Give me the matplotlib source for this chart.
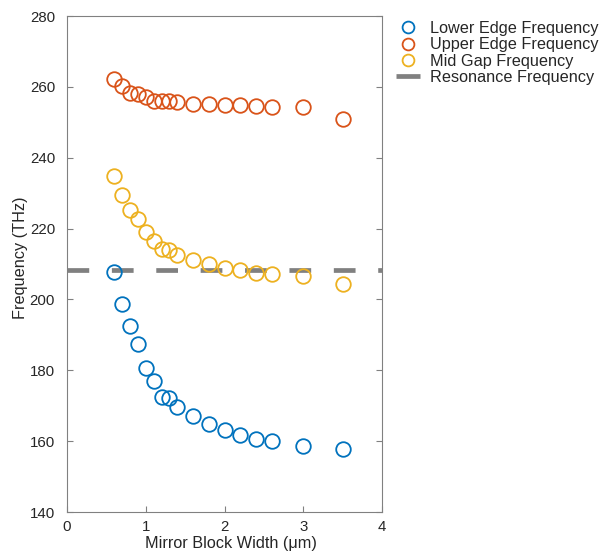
import matplotlib
matplotlib.use("Agg")
import matplotlib.pyplot as plt
from matplotlib.lines import Line2D

plt.rcParams['font.family'] = ['Liberation Sans', 'DejaVu Sans']

width_um = [0.6, 0.7, 0.8, 0.9, 1.0, 1.1, 1.2, 1.3, 1.4, 1.6, 1.8, 2.0, 2.2, 2.4, 2.6, 3.0, 3.5]
lower_edge = [207.7, 198.6, 192.4, 187.3, 180.6, 176.9, 172.6, 172.2, 169.6, 167.0, 164.8, 163.1, 161.8, 160.5, 159.9, 158.7, 157.7]
upper_edge = [262.1, 260.2, 258.2, 258.0, 257.2, 256.1, 255.9, 255.9, 255.6, 255.1, 255.1, 254.9, 254.8, 254.5, 254.4, 254.4, 250.8]
mid_gap = [234.9, 229.4, 225.2, 222.6, 218.9, 216.5, 214.3, 213.9, 212.6, 211.1, 210.0, 208.9, 208.3, 207.6, 207.3, 206.5, 204.4]
resonance = 208.2

xlim = (0, 4)
ylim = (140, 280)
xticks = [0, 1, 2, 3, 4]
yticks = [140, 160, 180, 200, 220, 240, 260, 280]

c_blue = '#0072BD'
c_orange = '#D95319'
c_yellow = '#EDB120'
c_gray = '#808080'
c_text = '#262626'

fig = plt.figure(figsize=(6.06, 5.58), dpi=100)
ax = fig.add_axes([67/606, 46/558, 315/606, 496/558])

mk = dict(marker='o', linestyle='none', markersize=10.5, markerfacecolor='none', markeredgewidth=1.3)
ax.plot(width_um, lower_edge, color=c_blue, markeredgecolor=c_blue, label='Lower Edge Frequency', **mk)
ax.plot(width_um, upper_edge, color=c_orange, markeredgecolor=c_orange, label='Upper Edge Frequency', **mk)
ax.plot(width_um, mid_gap, color=c_yellow, markeredgecolor=c_yellow, label='Mid Gap Frequency', **mk)
lw = 3.4
ax.plot(list(xlim), [resonance, resonance], color=c_gray, linewidth=lw,
        linestyle=(0, (4.6, 4.8)), solid_capstyle='butt', dash_capstyle='butt',
        label='Resonance Frequency', zorder=1)

ax.set_xlim(*xlim)
ax.set_ylim(*ylim)
ax.set_xticks(xticks)
ax.set_yticks(yticks)
ax.tick_params(direction='in', length=4, width=0.8, color=c_gray, labelsize=10.8,
               labelcolor=c_text, right=True, top=False)
ax.tick_params(axis='y', pad=8.6)
ax.tick_params(axis='x', pad=5.5)
for s in ax.spines.values():
    s.set_color(c_gray)
    s.set_linewidth(0.8)
ax.set_xlabel('Mirror Block Width (μm)', fontsize=11.7, color=c_text, labelpad=2, x=0.522)
ax.set_ylabel('Frequency (THz)', fontsize=11.7, color=c_text, labelpad=1, y=0.512)

handles = [
    Line2D([], [], marker='o', linestyle='none', markersize=8.5, markerfacecolor='none', markeredgewidth=1.3, markeredgecolor=c_blue),
    Line2D([], [], marker='o', linestyle='none', markersize=8.5, markerfacecolor='none', markeredgewidth=1.3, markeredgecolor=c_orange),
    Line2D([], [], marker='o', linestyle='none', markersize=8.5, markerfacecolor='none', markeredgewidth=1.3, markeredgecolor=c_yellow),
    Line2D([], [], color=c_gray, linewidth=3.4, solid_capstyle='butt'),
]
labels = ['Lower Edge Frequency', 'Upper Edge Frequency', 'Mid Gap Frequency', 'Resonance Frequency']
fig.legend(handles, labels, loc='upper left', bbox_to_anchor=(396/606, 1 - 21/558),
           frameon=False, fontsize=11.7, handlelength=1.48, handletextpad=0.6,
           labelspacing=0.08, borderaxespad=0, borderpad=0, labelcolor=c_text)

fig.savefig('out.png', dpi=100)
